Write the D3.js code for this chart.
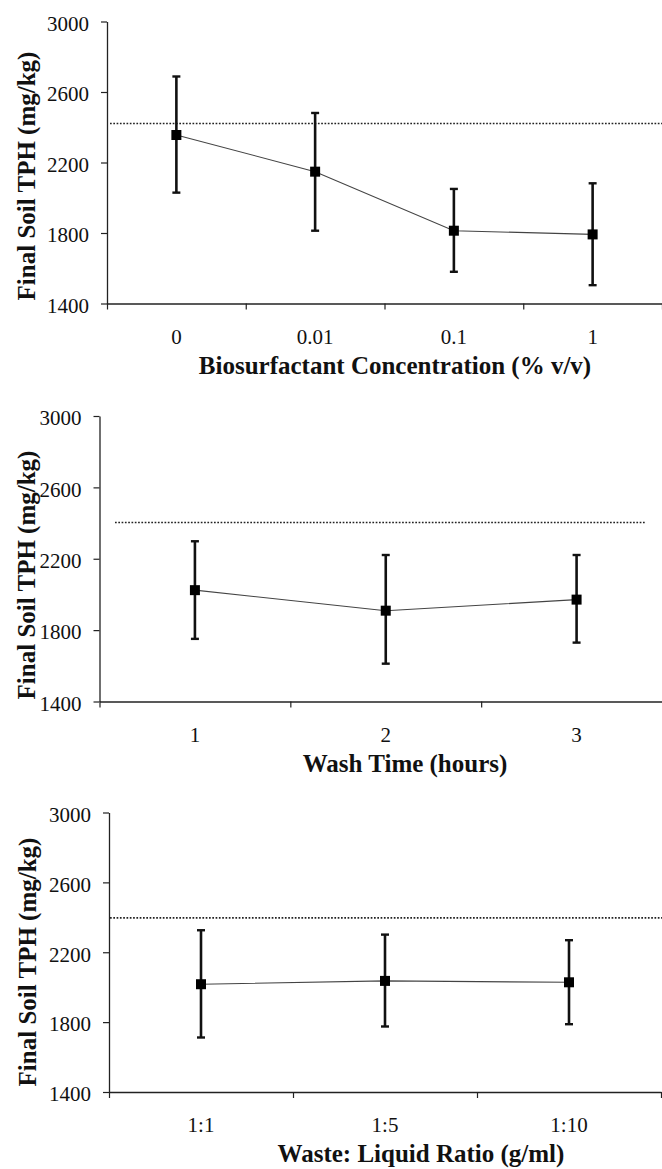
<!DOCTYPE html>
<html>
<head>
<meta charset="utf-8">
<script src="https://cdn.jsdelivr.net/npm/d3@7"></script>
<style>
  html, body { margin: 0; padding: 0; background: #fff; }
  svg { display: block; }
  text { font-family: "Liberation Serif", "Times New Roman", serif; fill: #111; }
</style>
</head>
<body>
<svg id="chart" width="662" height="1169"></svg>
<script>
// ---------- DATA ----------
const yTicks = [1400, 1800, 2200, 2600, 3000];
const yAxisTitle = "Final Soil TPH (mg/kg)";

const concCategories = ["0", "0.01", "0.1", "1"];
const concMeans = [2356, 2148, 1813, 1792];
const concUpper = [2688, 2481, 2050, 2082];
const concLower = [2029, 1813, 1580, 1504];
const concBaseline = 2421;
const concTitle = "Biosurfactant Concentration (% v/v)";

const timeCategories = ["1", "2", "3"];
const timeMeans = [2024, 1909, 1971];
const timeUpper = [2298, 2221, 2221];
const timeLower = [1751, 1612, 1730];
const timeBaseline = 2403;
const timeTitle = "Wash Time (hours)";

const ratioCategories = ["1:1", "1:5", "1:10"];
const ratioMeans = [2017, 2036, 2028];
const ratioUpper = [2326, 2301, 2269];
const ratioLower = [1712, 1775, 1788];
const ratioBaseline = 2397;
const ratioTitle = "Waste: Liquid Ratio (g/ml)";

// ---------- LAYOUT ----------
const panels = [
  { cats: concCategories, means: concMeans, upper: concUpper, lower: concLower, base: concBaseline, title: concTitle,
    left: 107, right: 662, top: 21.5, bottom: 303.5, titleX: 395, yTitleX: 26, yTitleY: 176, refX0: 110, refX1: 662 },
  { cats: timeCategories, means: timeMeans, upper: timeUpper, lower: timeLower, base: timeBaseline, title: timeTitle,
    left: 99.5, right: 672, top: 416, bottom: 701.5, titleX: 405, yTitleX: 26, yTitleY: 575, refX0: 115, refX1: 646 },
  { cats: ratioCategories, means: ratioMeans, upper: ratioUpper, lower: ratioLower, base: ratioBaseline, title: ratioTitle,
    left: 109, right: 661, top: 812.5, bottom: 1092, titleX: 421, yTitleX: 27, yTitleY: 962, refX0: 110, refX1: 662 }
];

const svg = d3.select("#chart");

panels.forEach(p => {
  const n = p.cats.length;
  const g = svg.append("g");

  const y = d3.scaleLinear().domain([1400, 3000]).range([p.bottom, p.top]);
  const xEdge = d3.scaleLinear().domain([0, n]).range([p.left, p.right]);
  const x = d3.scaleBand().domain(p.cats).range([p.left, p.right]).padding(0);
  const cx = c => x(c) + x.bandwidth() / 2;

  // Y axis
  const yAxis = g.append("g")
    .attr("transform", `translate(${p.left},0)`)
    .call(d3.axisLeft(y).tickValues(yTicks).tickSize(6).tickSizeOuter(0).tickPadding(12).tickFormat(d3.format("d")));
  yAxis.select(".domain").attr("stroke", "#222").attr("stroke-width", 1.3);
  yAxis.selectAll(".tick line").attr("stroke", "#222").attr("stroke-width", 1.2);
  yAxis.selectAll(".tick text")
    .attr("font-size", 21).attr("dy", "0.42em")
    .style("font-family", "'Liberation Serif', serif").style("fill", "#111");

  // X axis (ticks at category boundaries)
  const xAxis = g.append("g")
    .attr("transform", `translate(0,${p.bottom})`)
    .call(d3.axisBottom(xEdge).tickValues(d3.range(n + 1)).tickSize(6).tickSizeOuter(0).tickFormat(""));
  xAxis.select(".domain").attr("stroke", "#222").attr("stroke-width", 1.3);
  xAxis.selectAll(".tick line").attr("stroke", "#222").attr("stroke-width", 1.2);

  // category labels
  g.selectAll(".cat").data(p.cats).enter().append("text")
    .attr("x", d => cx(d)).attr("y", p.bottom + 40)
    .attr("text-anchor", "middle").attr("font-size", 21)
    .text(d => d);

  // x title
  g.append("text")
    .attr("x", p.titleX).attr("y", p.bottom + 70)
    .attr("text-anchor", "middle").attr("font-size", 25).attr("font-weight", "bold")
    .text(p.title);

  // y title
  g.append("text")
    .attr("transform", `translate(${p.yTitleX},${p.yTitleY}) rotate(-90)`)
    .attr("text-anchor", "middle").attr("dy", "0.35em")
    .attr("font-size", 25).attr("font-weight", "bold")
    .text(yAxisTitle);

  // dotted reference line (initial soil TPH)
  g.append("line")
    .attr("x1", p.refX0).attr("x2", p.refX1)
    .attr("y1", y(p.base)).attr("y2", y(p.base))
    .attr("stroke", "#222").attr("stroke-width", 1.6).attr("stroke-dasharray", "1.7,1.6");

  // connecting line
  const pts = p.cats.map((c, i) => [cx(c), y(p.means[i])]);
  g.append("path")
    .attr("d", d3.line()(pts))
    .attr("fill", "none").attr("stroke", "#444").attr("stroke-width", 1.1);

  // error bars
  const eb = g.selectAll(".eb").data(p.cats).enter().append("g");
  eb.append("line")
    .attr("x1", d => cx(d)).attr("x2", d => cx(d))
    .attr("y1", (d, i) => y(p.upper[i])).attr("y2", (d, i) => y(p.lower[i]))
    .attr("stroke", "#111").attr("stroke-width", 2.6);
  eb.append("line")
    .attr("x1", d => cx(d) - 4).attr("x2", d => cx(d) + 4)
    .attr("y1", (d, i) => y(p.upper[i])).attr("y2", (d, i) => y(p.upper[i]))
    .attr("stroke", "#111").attr("stroke-width", 2.4);
  eb.append("line")
    .attr("x1", d => cx(d) - 4).attr("x2", d => cx(d) + 4)
    .attr("y1", (d, i) => y(p.lower[i])).attr("y2", (d, i) => y(p.lower[i]))
    .attr("stroke", "#111").attr("stroke-width", 2.4);

  // square markers
  g.selectAll(".mk").data(p.cats).enter().append("rect")
    .attr("x", d => cx(d) - 5).attr("y", (d, i) => y(p.means[i]) - 5)
    .attr("width", 10).attr("height", 10)
    .attr("fill", "#000");
});
</script>
</body>
</html>
